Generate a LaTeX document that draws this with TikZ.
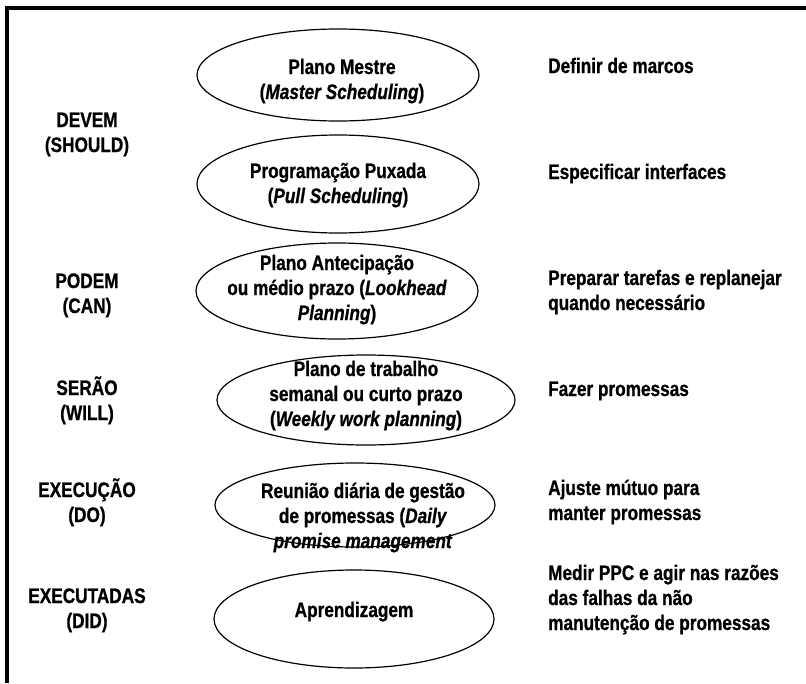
\documentclass[tikz,border=0pt]{standalone}
\usepackage{fontspec}
\setmainfont{Liberation Sans}[FakeStretch=0.82,
  BoldFeatures={FakeBold=0.8}, BoldItalicFeatures={FakeBold=0.8}]
\usetikzlibrary{shapes.geometric}

\begin{document}
\begin{tikzpicture}[x=1pt,y=-1pt,
  txt/.style={font=\bfseries\fontsize{21}{25}\selectfont, inner sep=0pt},
  level/.style={txt, align=center, anchor=base},
  task/.style={txt, align=left, anchor=base west},
  planname/.style={txt, align=center, anchor=base},
  plan/.style={ellipse, draw, line width=1.2pt, inner sep=0pt},
]
\useasboundingbox (0,0) rectangle (806,683);
% heavy frame along the top and left edges
\draw[line width=4pt] (7,683) -- (7,8) -- (806,8);

% planning levels (text nodes are placed by the baseline of their last line)
\node[plan, minimum width=282pt, minimum height=92pt] (e1) at (338,75) {};
\node[plan, minimum width=282pt, minimum height=98pt] (e2) at (338,184) {};
\node[plan, minimum width=282pt, minimum height=96pt] (e3) at (337,291) {};
\node[plan, minimum width=298pt, minimum height=90pt] (e4) at (366,400) {};
\node[plan, minimum width=280pt, minimum height=84pt] (e5) at (355,505) {};
\node[plan, minimum width=280pt, minimum height=98pt] (e6) at (354,619) {};

\node[planname] (p1) at (342,99) {Plano Mestre\\(\textit{Master Scheduling})};
\node[planname] (p2) at (338,203) {Programação Puxada\\(\textit{Pull Scheduling})};
\node[planname] (p3) at (337,320) {Plano Antecipação\\ou médio prazo (\textit{Lookhead}\\\textit{Planning})};
\node[planname] (p4) at (366,426) {Plano de trabalho\\semanal ou curto prazo\\(\textit{Weekly work planning})};
\node[planname] (p5) at (363,548) {Reunião diária de gestão\\de promessas (\textit{Daily}\\\textit{promise management}};
\node[planname] (p6) at (354,617) {Aprendizagem};

% commitment levels
\node[level] (l1) at (87,152) {DEVEM\\(SHOULD)};
\node[level] (l2) at (87,313) {PODEM\\(CAN)};
\node[level] (l3) at (87,420) {SERÃO\\(WILL)};
\node[level] (l4) at (87,522) {EXECUÇÃO\\(DO)};
\node[level] (l5) at (87,628) {EXECUTADAS\\(DID)};

% actions
\node[task] (a1) at (548,73) {Definir de marcos};
\node[task] (a2) at (548,179) {Especificar interfaces};
\node[task] (a3) at (548,310) {Preparar tarefas e replanejar\\quando necessário};
\node[task] (a4) at (548,396) {Fazer promessas};
\node[task] (a5) at (548,520) {Ajuste mútuo para\\manter promessas};
\node[task] (a6) at (548,630) {Medir PPC e agir nas razões\\das falhas da não\\manutenção de promessas};
\end{tikzpicture}
\end{document}
